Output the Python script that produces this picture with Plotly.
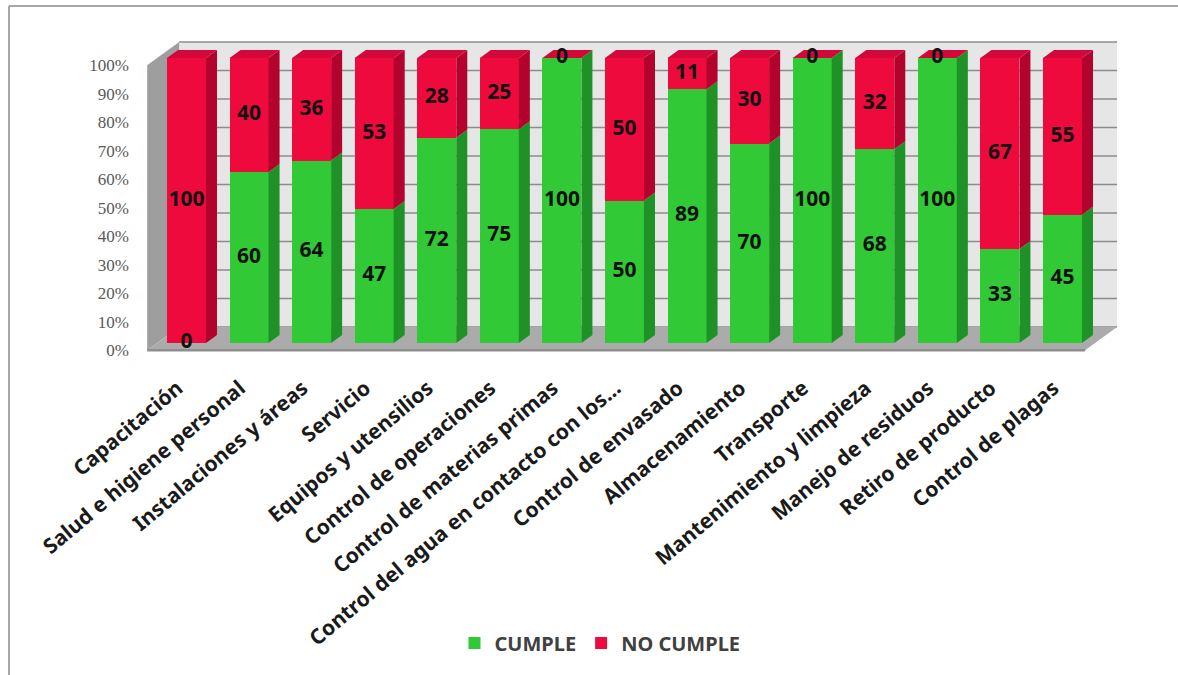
import plotly.graph_objects as go

# Categories evaluated and compliance percentages
categorias = [
    "Capacitación",
    "Salud e higiene personal",
    "Instalaciones y áreas",
    "Servicio",
    "Equipos y utensilios",
    "Control de operaciones",
    "Control de materias primas",
    "Control del agua en contacto con los...",
    "Control de envasado",
    "Almacenamiento",
    "Transporte",
    "Mantenimiento y limpieza",
    "Manejo de residuos",
    "Retiro de producto",
    "Control de plagas",
]
cumple = [0, 60, 64, 47, 72, 75, 100, 50, 89, 70, 100, 68, 100, 33, 45]
no_cumple = [100, 40, 36, 53, 28, 25, 0, 50, 11, 30, 0, 32, 0, 67, 55]
serie_nombres = ["CUMPLE", "NO CUMPLE"]
pct_ticks = [0, 10, 20, 30, 40, 50, 60, 70, 80, 90, 100]
pct_labels = [f"{v}%" for v in pct_ticks]

# Colours (front, side, top)
VERDE = ("#31C935", "#1E9226", "#29B22E")
ROJO = ("#EE0A3C", "#B3032C", "#D3083A")

# Pseudo-3D geometry, in axis units
W = 0.623           # width of a bar's front face
H = W / 2
KX, KY = 0.176, 2.8  # depth offset of one bar depth
FRONT, BACK = -0.9, 2.0  # depth of floor front edge and back wall
XL, XR = -0.47, 14.52    # horizontal extent of floor / walls
YR = [-4.21, 108.07]
XRANGE = [-0.743, 14.999]

idx = list(range(len(categorias)))
totales = [c + n for c, n in zip(cumple, no_cumple)]


def side_faces(bases, tops):
    xs, ys = [], []
    for i, (b, t) in enumerate(zip(bases, tops)):
        x0 = i + H
        xs += [x0, x0 + KX, x0 + KX, x0, x0, None]
        ys += [b, b + KY, t + KY, t, b, None]
    return xs, ys


def top_faces(tops):
    xs, ys = [], []
    for i, t in enumerate(tops):
        xs += [i - H, i + H, i + H + KX, i - H + KX, i - H, None]
        ys += [t, t, t + KY, t + KY, t, None]
    return xs, ys


fig = go.Figure()

# Front faces of stacked bars
fig.add_trace(go.Bar(x=idx, y=cumple, width=W, name=serie_nombres[0],
                     marker=dict(color=VERDE[0], line=dict(width=0)),
                     hoverinfo="skip"))
fig.add_trace(go.Bar(x=idx, y=no_cumple, width=W, name=serie_nombres[1],
                     marker=dict(color=ROJO[0], line=dict(width=0)),
                     hoverinfo="skip"))

# Side faces
sx, sy = side_faces([0] * len(cumple), cumple)
fig.add_trace(go.Scatter(x=sx, y=sy, fill="toself", fillcolor=VERDE[1], mode="lines",
                         line=dict(width=0, color=VERDE[1]), showlegend=False,
                         hoverinfo="skip"))
sx, sy = side_faces(cumple, totales)
fig.add_trace(go.Scatter(x=sx, y=sy, fill="toself", fillcolor=ROJO[1], mode="lines",
                         line=dict(width=0, color=ROJO[1]), showlegend=False,
                         hoverinfo="skip"))
# Top faces
tx, ty = top_faces(totales)
fig.add_trace(go.Scatter(x=tx, y=ty, fill="toself", fillcolor=ROJO[2], mode="lines",
                         line=dict(width=0, color=ROJO[2]), showlegend=False,
                         hoverinfo="skip"))

# Value labels centred on each segment
lab_font = dict(family="Noto Sans", size=21, color="#111111", weight="bold")
fig.add_trace(go.Scatter(x=idx, y=[c / 2 for c in cumple], text=[str(c) for c in cumple],
                         mode="text", textfont=lab_font, showlegend=False, hoverinfo="skip"))
fig.add_trace(go.Scatter(x=idx, y=[c + n / 2 for c, n in zip(cumple, no_cumple)],
                         text=[str(n) for n in no_cumple], mode="text", textfont=lab_font,
                         showlegend=False, hoverinfo="skip"))

# Empty trace bound to the front-plane percentage axis so that it is drawn
fig.add_trace(go.Scatter(x=[], y=[], yaxis="y2", showlegend=False, hoverinfo="skip"))

shapes = []


def pt(x, y, d):
    return x + d * KX, y + d * KY


def path(points):
    return "M " + " L ".join(f"{x:.4f},{y:.4f}" for x, y in points) + " Z"


# Back wall
shapes.append(dict(type="path", xref="x", yref="y", layer="below",
                   path=path([pt(XL, 0, BACK), pt(XR, 0, BACK), pt(XR, 100, BACK), pt(XL, 100, BACK)]),
                   fillcolor="#E6E6E6", line=dict(width=0)))
for v in pct_ticks:
    (x0, y0), (x1, y1) = pt(XL, v, BACK), pt(XR, v, BACK)
    shapes.append(dict(type="line", xref="x", yref="y", layer="below",
                       x0=x0, y0=y0, x1=x1, y1=y1, line=dict(color="#8C8C8C", width=1.5)))
# Left wall
shapes.append(dict(type="path", xref="x", yref="y", layer="below",
                   path=path([pt(XL, 0, FRONT), pt(XL, 0, BACK), pt(XL, 100, BACK), pt(XL, 100, FRONT)]),
                   fillcolor="#9E9E9E", line=dict(width=0)))
# Floor
shapes.append(dict(type="path", xref="x", yref="y", layer="below",
                   path=path([pt(XL, 0, FRONT), pt(XR, 0, FRONT), pt(XR, 0, BACK), pt(XL, 0, BACK)]),
                   fillcolor="#ABABAB", line=dict(width=0)))
(fx0, fy0), (fx1, fy1) = pt(XL, 0, FRONT), pt(XR, 0, FRONT)
shapes.append(dict(type="line", xref="x", yref="y", layer="below",
                   x0=fx0, y0=fy0, x1=fx1, y1=fy1, line=dict(color="#8E8E8E", width=2.5)))

# Chart frame (left and top edges)
L_PX, R_PX, T_PX, B_PX = 140, 1125, 35, 355


def px_x(p):
    return (p - L_PX) / (R_PX - L_PX)


def px_y(p):
    return (B_PX - p) / (B_PX - T_PX)


shapes.append(dict(type="line", xref="paper", yref="paper", x0=px_x(9), x1=px_x(9),
                   y0=px_y(6), y1=px_y(675), line=dict(color="#A6A6A6", width=2)))
shapes.append(dict(type="line", xref="paper", yref="paper", x0=px_x(9), x1=px_x(1178),
                   y0=px_y(6), y1=px_y(6), line=dict(color="#A6A6A6", width=2)))

fig.update_layout(
    width=1178, height=675,
    margin=dict(l=L_PX, r=1178 - R_PX, t=T_PX, b=675 - B_PX),
    paper_bgcolor="white", plot_bgcolor="rgba(0,0,0,0)",
    barmode="stack", bargap=0,
    shapes=shapes,
    showlegend=True,
    legend=dict(orientation="h", x=px_x(600), y=px_y(643), xanchor="center", yanchor="middle",
                font=dict(family="Noto Sans", size=20, color="#404040", weight="bold"),
                itemwidth=30, traceorder="normal"),
    xaxis=dict(range=XRANGE, tickmode="array", tickvals=idx, ticktext=categorias,
               tickangle=-40, showgrid=False, zeroline=False, showline=False, ticks="",
               ticklabelshift=-9, ticklabelstandoff=16,
               tickfont=dict(family="Noto Sans", size=21, color="#1a1a1a", weight="bold")),
    yaxis=dict(range=YR, showticklabels=False, showgrid=False, zeroline=False, showline=False),
    yaxis2=dict(range=[YR[0] - FRONT * KY, YR[1] - FRONT * KY], overlaying="y", anchor="x",
                side="left", tickmode="array", tickvals=pct_ticks, ticktext=pct_labels,
                showgrid=False, zeroline=False, showline=False, ticks="",
                ticklabelstandoff=10,
                tickfont=dict(family="Liberation Serif", size=17, color="#595959")),
)

fig.write_html("out.html")
